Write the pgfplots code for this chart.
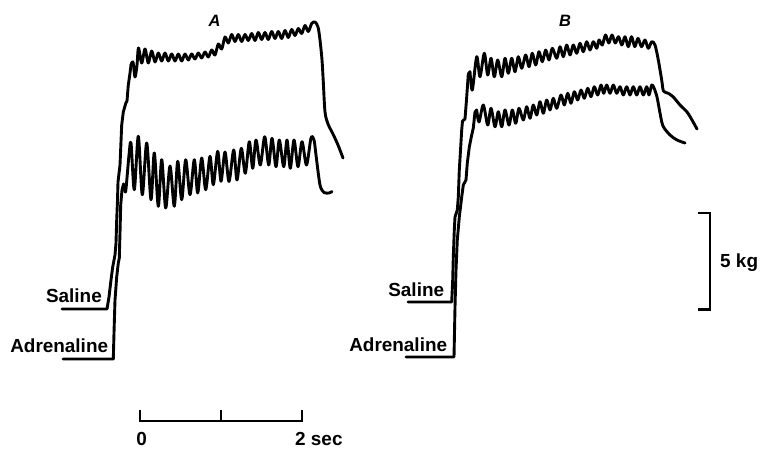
\documentclass[border=0pt]{standalone}
\usepackage{fontspec}
\setmainfont{Liberation Sans}
\usepackage{pgfplots}
\pgfplotsset{compat=1.18}
\begin{document}
\begin{tikzpicture}
\begin{axis}[
  scale only axis, width=760bp, height=451bp,
  xmin=0, xmax=760, ymin=0, ymax=451, y dir=reverse,
  hide axis, clip=false,
  cycle list={{black, solid, mark=none}},
  every axis plot/.append style={black, line width=2.9bp, line cap=round, line join=round, mark=none},
]
\path (axis cs:0,0) rectangle (axis cs:760,451);
% ---------- Panel A, saline ----------
\addplot[black] coordinates {(62,309) (107,309) (109,297) (111,280) (112.7,267) (115,255) (116,243) (116.7,220) (117.5,200) (118,182) (120,165) (121.7,125) (123.3,112) (125.7,103.5) (127,101) (128.3,85) (130,73) (131,65)};
\addplot[black, smooth, tension=0.5] coordinates {(131,65) (133,62) (135,77) (137,65) (138.5,48) (141.7,63) (145,49) (148.3,63) (151.7,51) (155,62) (158.3,53) (161.7,61) (165,53) (168.3,61) (171.7,54) (175,61) (178.3,54) (181.7,61) (185,54) (188.3,60) (191.7,54) (195,59) (198.3,53) (201.7,58) (205,52) (208.3,57) (211.7,50) (215,55) (218.3,44) (221.7,49) (225,37) (228.3,43) (231.7,34.5) (235,41.5) (238.3,34.5) (241.7,41.5) (245,34.5) (248.3,40.5) (251.7,33.5) (255,40.5) (258.3,32.5) (261.7,39.5) (265,32.5) (268.3,39.5) (271.7,31.5) (275,38.5) (278.3,31.5) (281.7,38.5) (285,30.5) (288.3,37.5) (291.7,29.5) (295,35.5) (298.3,28.5) (301.7,33.5) (305,25.5) (308.3,31.5) (311.7,23.5) (315,22) (318,27) (320,40) (322,60) (323.3,82) (325,112) (328,124) (333,134) (338,145) (343,158)};
% ---------- Panel A, adrenaline ----------
\addplot[black] coordinates {(63,359) (113.3,359) (114,333) (115,300) (116.7,277) (118.3,263) (119.3,258) (120,233) (120.7,205) (122,190) (123.5,184)};
\addplot[black, smooth, tension=0.5] coordinates {(123.5,184) (125.5,192) (127.5,172) (129,155) (131,143) (134.3,189.7) (138.3,136.3) (142.3,194.7) (146.7,143) (151,199.7) (154.3,153) (158.3,206.3) (161.7,159.7) (165.7,208) (170,166) (174.3,206.3) (177.7,161.3) (181.7,199.7) (185.7,159.7) (190,194.7) (194.3,159.7) (197.7,193) (201.7,158) (205.7,189.7) (210,156.3) (213.3,184.7) (217.7,151.3) (221,181.3) (225,152) (229,181.5) (233.7,150) (237,180) (241.3,148.3) (245.3,173.3) (249.3,141.7) (252.7,168.3) (256,140) (260.3,165) (264.7,136.7) (268.7,165) (272,138.3) (276,166.7) (279.3,140) (283.7,166.7) (287,140) (290.3,168.3) (294,140) (298,166.7) (302,141.7) (306.5,165) (311,138) (314,140) (316,155) (318.5,175) (320.5,187) (324,192.5) (329,193) (332,191.5)};
% ---------- Panel B, saline ----------
\addplot[black] coordinates {(408,302) (451.7,302) (452.7,280) (453.3,257) (454.3,230) (455,217) (457.3,210) (458.3,197) (459.3,170) (460.7,147) (461.7,130) (462.5,121) (465,119) (466.7,97) (468.3,74) (470,71.7)};
\addplot[black, smooth, tension=0.5] coordinates {(470,71.7) (472.3,90) (476.7,56.7) (480,76.7) (484.3,53.3) (487.7,75) (491,58.3) (494.3,76.7) (497.7,60) (501.7,76.7) (505,58.3) (508.3,73.3) (511.7,58.3) (515,71.7) (518.3,56.7) (521.7,68.3) (525.7,55) (529,66.7) (532.3,53.3) (535.7,65) (539,51.7) (542.3,61.7) (545.7,50) (549,60) (552.3,48.3) (556.7,58.3) (560,46.7) (563.3,56.7) (566.7,45) (570,55) (573.3,45) (576.7,53.3) (580,43.3) (583.3,51.7) (586.7,41.7) (590,50) (593.3,41.7) (596.7,48.3) (599,40) (602.3,45) (605.5,35) (608.8,43) (612,35) (615.3,43) (618.5,36.7) (621.8,45) (625,36.7) (628.3,46.7) (631.5,36.7) (634.8,46.7) (638,38.3) (641.5,46.7) (645,40) (648.3,48.3) (651.7,41.7) (655,45) (658.3,60) (661.7,80) (663.5,91) (668.3,93.3) (673.3,97) (680,105) (687,112) (692,120) (697,129)};
% ---------- Panel B, adrenaline ----------
\addplot[black] coordinates {(406,357) (454,357) (455,307) (456,270) (457.3,240) (459.3,217) (461.7,197) (463.3,185) (466,180) (467.3,163) (469.3,147) (471.7,135) (473.3,128) (475,112) (476.7,110)};
\addplot[black, smooth, tension=0.5] coordinates {(476.7,110) (479,122) (483.3,105) (487.7,125) (491,108.3) (495,126.7) (498.3,111.7) (501.7,126.7) (505,110) (509,125) (512.3,110) (515.7,123.3) (519,108.3) (523.3,120) (526.7,106.7) (530,118.3) (533.3,105) (536.7,115) (540,101.7) (543.3,113.3) (546.7,100) (550,110) (553.3,98.3) (556.7,108.3) (561,95) (564.3,105) (567.7,93.3) (571,103.3) (574.3,91.7) (577.7,100) (581,90) (584.3,98.3) (587.7,88.3) (591,96.7) (594.3,86.7) (597.7,95) (601,85) (603.7,93.3) (606.7,85) (610,93.3) (613.3,85) (616.7,93.3) (620,86.7) (623.3,95) (626.7,86.7) (630,95) (633.3,86.7) (636.7,95) (640,86.7) (643.3,95) (646.7,86.7) (649,95) (651.7,85) (654,88) (657,97) (660,113) (663,126) (670,135) (677,140) (685,143)};
% ---------- scale bars ----------
\addplot[black, line width=2.2bp, line cap=butt, line join=miter] coordinates {(140,410) (140,420.7) (301.7,420.7) (301.7,410)};
\addplot[black, line width=2.2bp, line cap=butt] coordinates {(221,410) (221,420.7)};
\addplot[black, line width=2.4bp, line cap=butt, line join=miter] coordinates {(698.3,212.7) (710,212.7) (710,309.3) (698.3,309.3)};
% ---------- labels ----------
\node[anchor=base, inner sep=0pt, font=\fontsize{16.5}{19}\selectfont\bfseries\itshape] at (axis cs:214.5,26.5) {A};
\node[anchor=base, inner sep=0pt, font=\fontsize{16.5}{19}\selectfont\bfseries\itshape] at (axis cs:565,26.5) {B};
\node[anchor=base east, inner sep=0pt, font=\fontsize{19}{22}\selectfont\bfseries] at (axis cs:102,302.5) {Saline};
\node[anchor=base east, inner sep=0pt, font=\fontsize{19}{22}\selectfont\bfseries] at (axis cs:108.3,352.5) {Adrenaline};
\node[anchor=base east, inner sep=0pt, font=\fontsize{19}{22}\selectfont\bfseries] at (axis cs:444.3,296.7) {Saline};
\node[anchor=base east, inner sep=0pt, font=\fontsize{19}{22}\selectfont\bfseries] at (axis cs:447.3,351.7) {Adrenaline};
\node[anchor=base west, inner sep=0pt, font=\fontsize{19}{22}\selectfont\bfseries] at (axis cs:720,267.7) {5 kg};
\node[anchor=base, inner sep=0pt, font=\fontsize{19}{22}\selectfont\bfseries] at (axis cs:141.7,445.5) {0};
\node[anchor=base west, inner sep=0pt, font=\fontsize{19}{22}\selectfont\bfseries] at (axis cs:295,445.5) {2 sec};
\end{axis}
\end{tikzpicture}
\end{document}
